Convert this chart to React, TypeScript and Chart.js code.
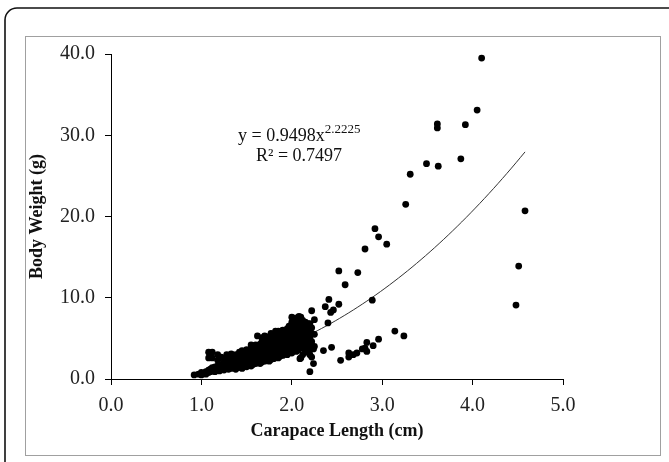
import React, { useEffect, useRef } from "react";
import { Chart, registerables } from "chart.js";

Chart.register(...registerables);

// Scattered individual points [carapace length (cm), body weight (g)]
const outlierPoints: [number, number][] = [
  [4.10, 39.5], [4.05, 33.1], [3.61, 31.4], [3.61, 30.9], [3.92, 31.3],
  [3.87, 27.1], [3.49, 26.5], [3.62, 26.2], [3.31, 25.2], [3.26, 21.5],
  [4.58, 20.7], [2.92, 18.5], [2.96, 17.5], [3.05, 16.6], [2.81, 16.0],
  [2.52, 13.3], [2.73, 13.1], [2.59, 11.6], [4.51, 13.9], [4.48, 9.1],
  [2.89, 9.7], [2.52, 9.2], [2.46, 8.5], [2.41, 9.8], [2.37, 8.9],
  [2.43, 8.2], [2.22, 8.4], [2.25, 7.3], [2.40, 6.9], [2.08, 7.7], [2.04, 7.3],
  [3.14, 5.9], [3.24, 5.3], [2.96, 4.9], [2.90, 4.1], [2.83, 4.5], [2.81, 3.8],
  [2.83, 3.4], [2.78, 3.7], [2.72, 3.2], [2.68, 3.0], [2.63, 3.2], [2.63, 2.7],
  [2.54, 2.3], [2.44, 3.9], [2.35, 3.5], [2.24, 3.7], [2.22, 2.7], [2.24, 1.9],
  [2.20, 0.9], [2.09, 2.5], [2.16, 4.4],
];

// Dense cluster: x positions and the body weights observed at each
const clusterXs = [
  0.92, 0.97, 1.0, 1.03, 1.05, 1.08, 1.1, 1.12, 1.15, 1.18, 1.2, 1.22, 1.25, 1.28,
  1.3, 1.33, 1.35, 1.38, 1.4, 1.42, 1.45, 1.47, 1.5, 1.52, 1.55, 1.57, 1.6, 1.62,
  1.65, 1.67, 1.7, 1.72, 1.75, 1.77, 1.8, 1.82, 1.85, 1.87, 1.9, 1.92, 1.95, 1.97,
  2.0, 2.02, 2.05, 2.07, 2.1, 2.12, 2.15, 2.18, 2.2, 2.22, 2.25,
];
const clusterYs: number[][] = [
  [0.5], [0.6], [0.5, 0.8], [0.7], [0.9, 0.6], [0.8, 1.1, 3.3, 2.6], [0.9, 1.2],
  [1.0, 1.4, 3.3, 2.6], [1.1, 1.5, 0.9], [1.2, 1.6, 2.3, 3.0], [1.0, 1.4, 1.8],
  [1.3, 1.7, 2.7], [1.1, 1.5, 2.0, 2.5], [1.4, 1.8, 2.2, 3.0], [1.2, 1.6, 2.0, 2.6],
  [1.3, 1.7, 2.1, 2.4, 3.1], [1.5, 1.9, 2.3, 2.8], [1.2, 1.6, 2.0, 2.5, 3.0],
  [1.4, 1.8, 2.2, 2.7], [1.5, 1.9, 2.4, 2.9, 3.3], [1.3, 1.7, 2.1, 2.6, 3.1, 3.5],
  [1.6, 2.0, 2.4, 2.8, 3.4], [1.5, 1.9, 2.3, 2.7, 3.2, 3.6], [1.7, 2.1, 2.5, 3.0, 3.5],
  [1.6, 2.0, 2.4, 2.8, 3.3, 3.8, 4.2], [1.8, 2.2, 2.6, 3.1, 3.6],
  [1.9, 2.3, 2.7, 3.2, 3.7, 4.2], [2.0, 2.5, 2.9, 3.4, 3.9, 5.3],
  [1.9, 2.4, 2.8, 3.3, 3.8, 4.3], [2.1, 2.6, 3.0, 3.5, 4.0, 4.6, 5.1],
  [2.2, 2.7, 3.1, 3.6, 4.1, 4.7, 5.3], [2.3, 2.8, 3.3, 3.8, 4.3, 5.0],
  [2.2, 2.6, 3.0, 3.5, 4.0, 4.5, 5.2], [2.4, 2.9, 3.4, 3.9, 4.4, 4.9, 5.6],
  [2.5, 3.0, 3.5, 4.0, 4.5, 5.0, 5.5], [2.7, 3.2, 3.7, 4.2, 4.7, 5.9],
  [2.6, 3.1, 3.6, 4.1, 4.6, 5.1, 5.6, 5.9], [2.8, 3.3, 3.8, 4.3, 4.8, 5.3],
  [2.9, 3.4, 3.9, 4.4, 4.9, 5.4, 6.0], [3.1, 3.6, 4.1, 4.6, 5.1, 5.7],
  [3.0, 3.5, 4.0, 4.5, 5.0, 5.5, 6.2], [3.3, 3.8, 4.3, 4.8, 5.3, 5.8, 6.5],
  [3.2, 3.7, 4.2, 4.7, 5.2, 5.7, 6.3, 7.0, 7.6], [3.5, 4.0, 4.5, 5.0, 5.6, 6.1, 7.5],
  [3.4, 3.9, 4.4, 4.9, 5.4, 6.0, 6.6, 7.3], [3.6, 4.2, 4.8, 5.3, 5.9, 7.6],
  [2.6, 3.8, 4.3, 4.9, 5.5, 6.2, 6.9, 7.6], [3.0, 4.0, 4.6, 5.2, 6.5, 7.2],
  [3.3, 4.1, 4.8, 5.7, 6.0, 6.4, 7.0], [3.9, 4.5, 5.4, 6.1, 6.8],
  [3.0, 3.6, 4.2, 5.0, 5.8, 6.8], [4.6, 5.6, 6.3], [4.0, 5.5],
];

// Power trend line y = a * x^b as printed on the chart
const trendA = 0.9498;
const trendB = 2.2225;
const trendXStart = 0.93;
const trendXEnd = 4.58;

const xTicks = [0, 1, 2, 3, 4, 5];
const yTicks = [0, 10, 20, 30, 40];

const SERIF = "'Liberation Serif', 'Times New Roman', serif";

export default function App() {
  const ref = useRef<HTMLCanvasElement>(null);

  useEffect(() => {
    if (!ref.current) return;

    const scatter: { x: number; y: number }[] = [];
    clusterXs.forEach((x, i) => clusterYs[i].forEach((y) => scatter.push({ x, y })));
    outlierPoints.forEach(([x, y]) => scatter.push({ x, y }));

    const trend: { x: number; y: number }[] = [];
    for (let x = trendXStart; x <= trendXEnd + 1e-9; x += 0.05) {
      trend.push({ x, y: trendA * Math.pow(x, trendB) });
    }
    trend.push({ x: trendXEnd, y: trendA * Math.pow(trendXEnd, trendB) });

    const framePlugin = {
      id: "frame",
      beforeDraw(chart: any) {
        const ctx = chart.ctx;
        ctx.save();
        ctx.fillStyle = "#fff";
        ctx.fillRect(0, 0, chart.width, chart.height);
        ctx.strokeStyle = "#a0a0a0";
        ctx.lineWidth = 1;
        ctx.strokeRect(25.5, 36.5, 635, 419);
        ctx.strokeStyle = "#111";
        ctx.lineWidth = 1.6;
        ctx.beginPath();
        ctx.roundRect(5, 8, 720, 520, 12);
        ctx.stroke();
        ctx.restore();
      },
      afterDatasetsDraw(chart: any) {
        const ctx = chart.ctx;
        ctx.save();
        ctx.fillStyle = "#111";
        ctx.textBaseline = "alphabetic";
        ctx.textAlign = "left";
        ctx.font = `18px ${SERIF}`;
        const main = "y = 0.9498x";
        ctx.fillText(main, 238, 141);
        const w = ctx.measureText(main).width;
        ctx.font = `13px ${SERIF}`;
        ctx.fillText("2.2225", 238 + w, 133);
        ctx.font = `18px ${SERIF}`;
        ctx.fillText("R² = 0.7497", 256, 161);
        ctx.restore();
      },
    };

    const chart = new Chart(ref.current, {
      type: "scatter",
      data: {
        datasets: [
          {
            type: "scatter",
            data: scatter,
            pointRadius: 3.4,
            pointBackgroundColor: "#000",
            pointBorderWidth: 0,
            backgroundColor: "#000",
          },
          {
            type: "line",
            data: trend,
            borderColor: "#333",
            borderWidth: 1,
            pointRadius: 0,
            fill: false,
            tension: 0,
          } as any,
        ],
      },
      options: {
        animation: false,
        responsive: false,
        devicePixelRatio: 1,
        layout: { padding: { left: 27, top: 54, right: 106, bottom: 20 } },
        plugins: { legend: { display: false }, tooltip: { enabled: false } },
        scales: {
          x: {
            type: "linear",
            min: 0,
            max: 5,
            afterBuildTicks: (s: any) => {
              s.ticks = xTicks.map((v) => ({ value: v }));
            },
            afterFit: (s: any) => {
              s.height = 63;
            },
            ticks: {
              callback: (v: any) => Number(v).toFixed(1),
              font: { family: SERIF, size: 20 },
              color: "#222",
              padding: 9,
            },
            grid: { drawOnChartArea: false, drawTicks: true, tickLength: 6, color: "#000" },
            border: { display: true, color: "#000", width: 1 },
            title: {
              display: true,
              text: "Carapace Length (cm)",
              font: { family: SERIF, size: 18, weight: "bold" },
              color: "#111",
              padding: 0,
            },
          },
          y: {
            type: "linear",
            min: 0,
            max: 40,
            afterBuildTicks: (s: any) => {
              s.ticks = yTicks.map((v) => ({ value: v }));
            },
            afterFit: (s: any) => {
              s.width = 84;
            },
            ticks: {
              callback: (v: any) => Number(v).toFixed(1),
              font: { family: SERIF, size: 20 },
              color: "#222",
              padding: 10,
            },
            grid: { drawOnChartArea: false, drawTicks: true, tickLength: 6, color: "#000" },
            border: { display: true, color: "#000", width: 1 },
            title: {
              display: true,
              text: "Body Weight (g)",
              font: { family: SERIF, size: 18, weight: "bold" },
              color: "#111",
              padding: 0,
            },
          },
        },
      },
      plugins: [framePlugin],
    });

    return () => chart.destroy();
  }, []);

  return (
    <div style={{ position: "fixed", left: 0, top: 0, width: 669, height: 462, background: "#fff" }}>
      <canvas ref={ref} width={669} height={462} style={{ display: "block" }} />
    </div>
  );
}
